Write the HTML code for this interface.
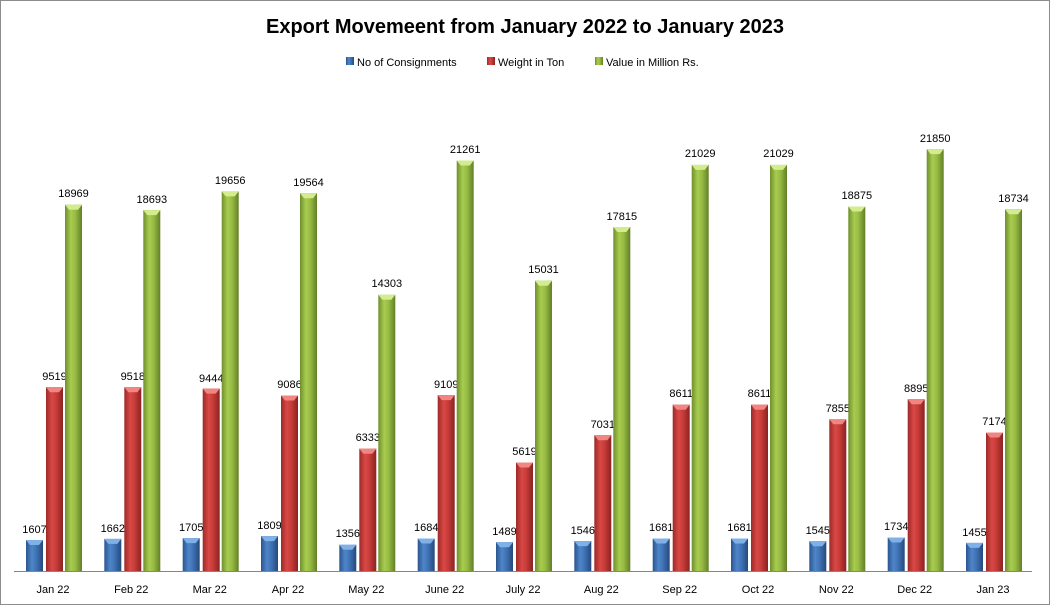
<!DOCTYPE html>
<html><head><meta charset="utf-8"><style>
html,body{margin:0;padding:0;background:#fff}
svg{display:block}
text{font-family:"Liberation Sans",sans-serif}
</style></head><body>
<svg width="1050" height="605" viewBox="0 0 1050 605" xmlns="http://www.w3.org/2000/svg">
<defs>
<linearGradient id="gb" x1="0" x2="1" y1="0" y2="0"><stop offset="0" stop-color="#2a5590"/><stop offset="0.35" stop-color="#4f86c9"/><stop offset="0.6" stop-color="#3f73b5"/><stop offset="1" stop-color="#26497c"/></linearGradient>
<linearGradient id="gr" x1="0" x2="1" y1="0" y2="0"><stop offset="0" stop-color="#9c2a28"/><stop offset="0.35" stop-color="#d94845"/><stop offset="0.6" stop-color="#c73c39"/><stop offset="1" stop-color="#8a2321"/></linearGradient>
<linearGradient id="gg" x1="0" x2="1" y1="0" y2="0"><stop offset="0" stop-color="#6f8f2e"/><stop offset="0.35" stop-color="#a8cc4e"/><stop offset="0.6" stop-color="#98bc44"/><stop offset="1" stop-color="#627f28"/></linearGradient>
<g id="capb"><polygon points="0,0 17,0 13,5 4,5" fill="#7fb0e8"/></g>
<g id="capr"><polygon points="0,0 17,0 13,5 4,5" fill="#f08582"/></g>
<g id="capg"><polygon points="0,0 17,0 13,5 4,5" fill="#d2ec8e"/></g>
</defs>
<rect x="0.5" y="0.5" width="1049" height="604" fill="#fff" stroke="#8c8c8c"/>
<text x="525" y="33" font-size="20" font-weight="bold" text-anchor="middle" fill="#000">Export Movemeent from January 2022 to January 2023</text>
<g font-size="11" fill="#000">
<rect x="346" y="57" width="8" height="8" fill="url(#gb)"/><text x="357" y="66">No of Consignments</text>
<rect x="487" y="57" width="8" height="8" fill="url(#gr)"/><text x="498" y="66">Weight in Ton</text>
<rect x="595" y="57" width="8" height="8" fill="url(#gg)"/><text x="606" y="66">Value in Million Rs.</text>
</g>
<line x1="14" y1="571.5" x2="1032" y2="571.5" stroke="#868686"/>
<g font-size="11" fill="#000" text-anchor="middle">
<g transform="translate(53,0)"><rect x="-27" y="540" width="17" height="31" fill="url(#gb)"/><use href="#capb" x="-27" y="540"/><text x="-18.5" y="533">1607</text><rect x="-7" y="387.2" width="17" height="183.8" fill="url(#gr)"/><use href="#capr" x="-7" y="387.2"/><text x="1.5" y="380">9519</text><rect x="12" y="204.7" width="17" height="366.3" fill="url(#gg)"/><use href="#capg" x="12" y="204.7"/><text x="20.5" y="197">18969</text><text x="0" y="593">Jan 22</text></g>
<g transform="translate(131.3,0)"><rect x="-27" y="538.9" width="17" height="32.1" fill="url(#gb)"/><use href="#capb" x="-27" y="538.9"/><text x="-18.5" y="532">1662</text><rect x="-7" y="387.2" width="17" height="183.8" fill="url(#gr)"/><use href="#capr" x="-7" y="387.2"/><text x="1.5" y="380">9518</text><rect x="12" y="210.1" width="17" height="360.9" fill="url(#gg)"/><use href="#capg" x="12" y="210.1"/><text x="20.5" y="203">18693</text><text x="0" y="593">Feb 22</text></g>
<g transform="translate(209.7,0)"><rect x="-27" y="538.1" width="17" height="32.9" fill="url(#gb)"/><use href="#capb" x="-27" y="538.1"/><text x="-18.5" y="531">1705</text><rect x="-7" y="388.6" width="17" height="182.4" fill="url(#gr)"/><use href="#capr" x="-7" y="388.6"/><text x="1.5" y="382">9444</text><rect x="12" y="191.4" width="17" height="379.6" fill="url(#gg)"/><use href="#capg" x="12" y="191.4"/><text x="20.5" y="184">19656</text><text x="0" y="593">Mar 22</text></g>
<g transform="translate(288,0)"><rect x="-27" y="536.1" width="17" height="34.9" fill="url(#gb)"/><use href="#capb" x="-27" y="536.1"/><text x="-18.5" y="529">1809</text><rect x="-7" y="395.5" width="17" height="175.5" fill="url(#gr)"/><use href="#capr" x="-7" y="395.5"/><text x="1.5" y="388">9086</text><rect x="12" y="193.2" width="17" height="377.8" fill="url(#gg)"/><use href="#capg" x="12" y="193.2"/><text x="20.5" y="186">19564</text><text x="0" y="593">Apr 22</text></g>
<g transform="translate(366.3,0)"><rect x="-27" y="544.8" width="17" height="26.2" fill="url(#gb)"/><use href="#capb" x="-27" y="544.8"/><text x="-18.5" y="537">1356</text><rect x="-7" y="448.7" width="17" height="122.3" fill="url(#gr)"/><use href="#capr" x="-7" y="448.7"/><text x="1.5" y="441">6333</text><rect x="12" y="294.8" width="17" height="276.2" fill="url(#gg)"/><use href="#capg" x="12" y="294.8"/><text x="20.5" y="287">14303</text><text x="0" y="593">May 22</text></g>
<g transform="translate(444.7,0)"><rect x="-27" y="538.5" width="17" height="32.5" fill="url(#gb)"/><use href="#capb" x="-27" y="538.5"/><text x="-18.5" y="531">1684</text><rect x="-7" y="395.1" width="17" height="175.9" fill="url(#gr)"/><use href="#capr" x="-7" y="395.1"/><text x="1.5" y="388">9109</text><rect x="12" y="160.5" width="17" height="410.5" fill="url(#gg)"/><use href="#capg" x="12" y="160.5"/><text x="20.5" y="153">21261</text><text x="0" y="593">June 22</text></g>
<g transform="translate(523,0)"><rect x="-27" y="542.2" width="17" height="28.8" fill="url(#gb)"/><use href="#capb" x="-27" y="542.2"/><text x="-18.5" y="535">1489</text><rect x="-7" y="462.5" width="17" height="108.5" fill="url(#gr)"/><use href="#capr" x="-7" y="462.5"/><text x="1.5" y="455">5619</text><rect x="12" y="280.7" width="17" height="290.3" fill="url(#gg)"/><use href="#capg" x="12" y="280.7"/><text x="20.5" y="273">15031</text><text x="0" y="593">July 22</text></g>
<g transform="translate(601.3,0)"><rect x="-27" y="541.1" width="17" height="29.9" fill="url(#gb)"/><use href="#capb" x="-27" y="541.1"/><text x="-18.5" y="534">1546</text><rect x="-7" y="435.2" width="17" height="135.8" fill="url(#gr)"/><use href="#capr" x="-7" y="435.2"/><text x="1.5" y="428">7031</text><rect x="12" y="227" width="17" height="344" fill="url(#gg)"/><use href="#capg" x="12" y="227"/><text x="20.5" y="220">17815</text><text x="0" y="593">Aug 22</text></g>
<g transform="translate(679.7,0)"><rect x="-27" y="538.5" width="17" height="32.5" fill="url(#gb)"/><use href="#capb" x="-27" y="538.5"/><text x="-18.5" y="531">1681</text><rect x="-7" y="404.7" width="17" height="166.3" fill="url(#gr)"/><use href="#capr" x="-7" y="404.7"/><text x="1.5" y="397">8611</text><rect x="12" y="164.9" width="17" height="406.1" fill="url(#gg)"/><use href="#capg" x="12" y="164.9"/><text x="20.5" y="157">21029</text><text x="0" y="593">Sep 22</text></g>
<g transform="translate(758,0)"><rect x="-27" y="538.5" width="17" height="32.5" fill="url(#gb)"/><use href="#capb" x="-27" y="538.5"/><text x="-18.5" y="531">1681</text><rect x="-7" y="404.7" width="17" height="166.3" fill="url(#gr)"/><use href="#capr" x="-7" y="404.7"/><text x="1.5" y="397">8611</text><rect x="12" y="164.9" width="17" height="406.1" fill="url(#gg)"/><use href="#capg" x="12" y="164.9"/><text x="20.5" y="157">21029</text><text x="0" y="593">Oct 22</text></g>
<g transform="translate(836.3,0)"><rect x="-27" y="541.2" width="17" height="29.8" fill="url(#gb)"/><use href="#capb" x="-27" y="541.2"/><text x="-18.5" y="534">1545</text><rect x="-7" y="419.3" width="17" height="151.7" fill="url(#gr)"/><use href="#capr" x="-7" y="419.3"/><text x="1.5" y="412">7855</text><rect x="12" y="206.5" width="17" height="364.5" fill="url(#gg)"/><use href="#capg" x="12" y="206.5"/><text x="20.5" y="199">18875</text><text x="0" y="593">Nov 22</text></g>
<g transform="translate(914.7,0)"><rect x="-27" y="537.5" width="17" height="33.5" fill="url(#gb)"/><use href="#capb" x="-27" y="537.5"/><text x="-18.5" y="530">1734</text><rect x="-7" y="399.2" width="17" height="171.8" fill="url(#gr)"/><use href="#capr" x="-7" y="399.2"/><text x="1.5" y="392">8895</text><rect x="12" y="149.1" width="17" height="421.9" fill="url(#gg)"/><use href="#capg" x="12" y="149.1"/><text x="20.5" y="142">21850</text><text x="0" y="593">Dec 22</text></g>
<g transform="translate(993,0)"><rect x="-27" y="542.9" width="17" height="28.1" fill="url(#gb)"/><use href="#capb" x="-27" y="542.9"/><text x="-18.5" y="536">1455</text><rect x="-7" y="432.5" width="17" height="138.5" fill="url(#gr)"/><use href="#capr" x="-7" y="432.5"/><text x="1.5" y="425">7174</text><rect x="12" y="209.2" width="17" height="361.8" fill="url(#gg)"/><use href="#capg" x="12" y="209.2"/><text x="20.5" y="202">18734</text><text x="0" y="593">Jan 23</text></g>
</g>
</svg>
</body></html>
